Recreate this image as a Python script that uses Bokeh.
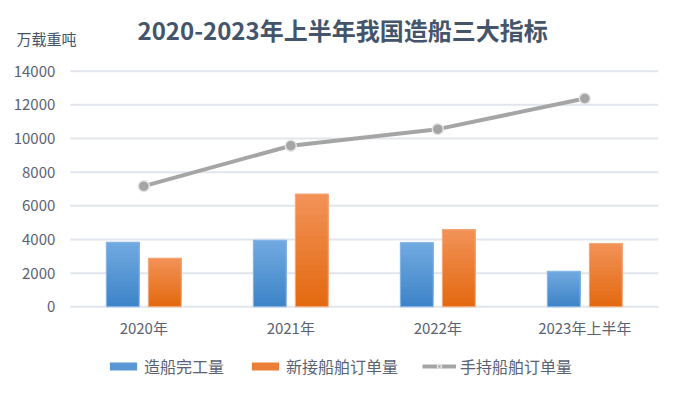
from bokeh.plotting import figure
from bokeh.models import (ColumnDataSource, Legend, LegendItem, Label, FixedTicker, Range1d)
from bokeh.transform import dodge
from bokeh.embed import file_html
from bokeh.resources import INLINE

# ---- data ----
categories = ["2020年", "2021年", "2022年", "2023年上半年"]
completions = [3840, 3959, 3811, 2113]        # 造船完工量
new_orders = [2890, 6707, 4575, 3767]         # 新接船舶订单量
holding_orders = [7169, 9572, 10557, 12377]   # 手持船舶订单量
y_ticks = [0, 2000, 4000, 6000, 8000, 10000, 12000, 14000]
series_names = ["造船完工量", "新接船舶订单量", "手持船舶订单量"]
title_text = "2020-2023年上半年我国造船三大指标"
unit_text = "万载重吨"

FONT = "Noto Sans CJK SC"
TXT = "#5a6272"
W, H = 677, 396

# layout: plot area spans x 69.8..657.8 px, y 70.7..306.3 px of the canvas
PX_LEFT, CAT_W = 69.8, 147.0
PX_BASE, PX_PER_UNIT = 306.3, 235.6 / 14000

x_pos = [i + 0.5 for i in range(len(categories))]
src = ColumnDataSource(dict(x=x_pos, a=completions, b=new_orders, c=holding_orders))

p = figure(width=W, height=H,
           x_range=Range1d(-PX_LEFT / CAT_W, (W - PX_LEFT) / CAT_W),
           y_range=Range1d(-(H - PX_BASE) / PX_PER_UNIT, PX_BASE / PX_PER_UNIT),
           output_backend="svg", toolbar_location=None, min_border=0)
p.outline_line_color = None
p.xgrid.grid_line_color = None
p.ygrid.grid_line_color = None

# horizontal gridlines across the category span
p.segment(x0=[0] * len(y_ticks), x1=[len(categories)] * len(y_ticks), y0=y_ticks, y1=y_ticks,
          line_color="#e1e6ec", line_width=2)


def mix(c1, c2, t):
    a = [int(c1[i:i + 2], 16) for i in (1, 3, 5)]
    b = [int(c2[i:i + 2], 16) for i in (1, 3, 5)]
    return "#" + "".join("%02x" % round(a[j] + (b[j] - a[j]) * t) for j in range(3))


def gradient_bars(values, offset, c_top, c_bottom, edge, n=16):
    """each bar: overlapping bands from its fraction k/n up to the top, shading bottom->top"""
    mid = None
    for k in range(n):
        s = ColumnDataSource(dict(x=x_pos, bottom=[v * k / n for v in values], top=values))
        r = p.vbar(x=dodge("x", offset), bottom="bottom", top="top", width=0.224, source=s,
                   fill_color=mix(c_bottom, c_top, (k + 0.5) / n), line_color=None)
        if k == n // 2:
            mid = r
    p.vbar(x=dodge("x", offset), top="v", width=0.224,
           source=ColumnDataSource(dict(x=x_pos, v=values)),
           fill_color=None, line_color=edge, line_width=1)
    return mid


r1 = gradient_bars(completions, -0.143, "#72aae0", "#3c83c7", "#8dbbe8")
r2 = gradient_bars(new_orders, 0.143, "#f29258", "#e3690f", "#f6ae82")
r3 = p.line(x="x", y="c", source=src, line_color="#a5a5a5", line_width=4)
r4 = p.scatter(x="x", y="c", source=src, size=11, fill_color="#a5a5a5",
               line_color="#e4e4e4", line_width=1.5)

xa, ya = p.xaxis[0], p.yaxis[0]
xa.fixed_location = 0
ya.fixed_location = 0
xa.ticker = FixedTicker(ticks=x_pos)
xa.major_label_overrides = {x: c for x, c in zip(x_pos, categories)}
ya.ticker = FixedTicker(ticks=y_ticks)
for ax in (xa, ya):
    ax.axis_line_color = None
    ax.major_tick_line_color = None
    ax.minor_tick_line_color = None
    ax.major_tick_in = 0
    ax.major_tick_out = 0
    ax.minor_tick_in = 0
    ax.minor_tick_out = 0
    ax.major_label_text_font = FONT
    ax.major_label_text_font_size = "15px"
    ax.major_label_text_color = TXT
ya.major_label_standoff = 15
xa.major_label_standoff = 10

legend = Legend(items=[LegendItem(label=series_names[0], renderers=[r1]),
                       LegendItem(label=series_names[1], renderers=[r2]),
                       LegendItem(label=series_names[2], renderers=[r3, r4])],
                location=(106, 18), orientation="horizontal",
                glyph_width=34, glyph_height=10, label_standoff=4, spacing=24,
                label_text_font=FONT, label_text_font_size="16px", label_text_color=TXT,
                border_line_color=None, background_fill_alpha=0, padding=0, margin=0)
p.add_layout(legend, "center")

p.add_layout(Label(x=137, y=H - 29, x_units="screen", y_units="screen", text=title_text,
                   text_align="left", text_baseline="middle", text_font=FONT,
                   text_font_size="24px", text_font_style="bold", text_color="#44546a"))
p.add_layout(Label(x=16, y=H - 38.3, x_units="screen", y_units="screen", text=unit_text,
                   text_align="left", text_baseline="middle", text_font=FONT,
                   text_font_size="15px", text_color="#44546a"))

open("out.html", "w").write(file_html(p, INLINE))
